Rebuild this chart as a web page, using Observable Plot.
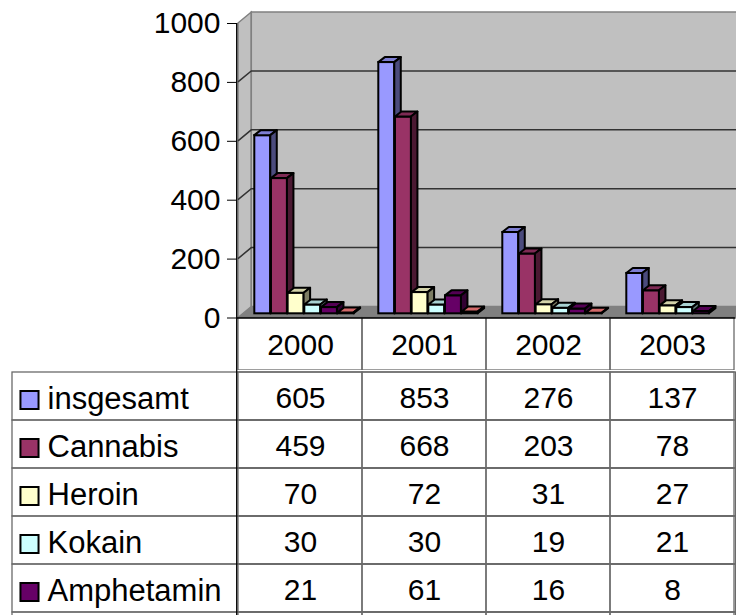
<!DOCTYPE html>
<html>
<head>
<meta charset="utf-8">
<script src="https://cdn.jsdelivr.net/npm/d3@7"></script>
<script src="https://cdn.jsdelivr.net/npm/@observablehq/plot@0.6"></script>
<style>
  html, body { margin: 0; padding: 0; background: white; overflow: hidden; }
  #chart svg { display: block; }
</style>
</head>
<body>
<div id="chart"></div>
<script>
// ---- data ----
const years = ["2000", "2001", "2002", "2003"];
const seriesNames = ["insgesamt", "Cannabis", "Heroin", "Kokain", "Amphetamin"];
const insgesamt  = [605, 853, 276, 137];
const cannabis   = [459, 668, 203, 78];
const heroin     = [70, 72, 31, 27];
const kokain     = [30, 30, 19, 21];
const amphetamin = [21, 61, 16, 8];
// sixth series: its table row is cut off at the bottom of the picture (name not visible)
const series6Name = "(6)";
const series6 = [3, 6, 2, null];
const yTicks = [0, 200, 400, 600, 800, 1000];

const allNames = [...seriesNames, series6Name];
const allValues = [insgesamt, cannabis, heroin, kokain, amphetamin, series6];
const colors = ["#9999FF", "#993366", "#FFFFCC", "#CCFFFF", "#660066", "#FF8080"];

const rows = [];
allNames.forEach((s, i) => years.forEach((y, j) => rows.push({series: s, idx: i, year: y, value: allValues[i][j]})));

// ---- styles ----
const FONT = "'Liberation Sans', Arial, sans-serif";
const FS = 30;
const W = 736;
const ML = 236.7, MR = 0.5, MT = 23, PLOT_BOTTOM = 317.5, HEADER_H = 52.5;
const H1 = PLOT_BOTTOM + HEADER_H;
const ROW_H = 48.5;
const BW = (W - MR - ML) / years.length;
const BAR_OFF = 16.3, BAR_W = 16.67, BAR_DY = -4.2, DEP_X = 6.5, DEP_Y = -5;
const WALL_DX = 13.3, WALL_DY = -11;
const GRID = "#333", TABLE = "#6a6a6a";

const NS = "http://www.w3.org/2000/svg";
function el(tag, attrs) {
  const e = document.createElementNS(NS, tag);
  for (const k in attrs) e.setAttribute(k, attrs[k]);
  return e;
}
const pts = a => a.map(p => p.join(",")).join(" ");
const bwOf = s => typeof s.bandwidth === "function" ? s.bandwidth() : s.bandwidth;

// walls, floor and gridlines (from the x and y scales)
function walls(index, scales) {
  const g = el("g", {});
  const x0 = scales.x(years[0]);
  const x1 = scales.x(years[years.length - 1]) + bwOf(scales.x);
  const y0 = scales.y(0), yT = scales.y(yTicks[yTicks.length - 1]);
  g.appendChild(el("polygon", {points: pts([[x0, yT], [x0 + WALL_DX, yT + WALL_DY], [x0 + WALL_DX, y0 + WALL_DY], [x0, y0]]), fill: "#c0c0c0", stroke: "#808080", "stroke-width": 1.5}));
  g.appendChild(el("rect", {x: x0 + WALL_DX, y: yT + WALL_DY, width: x1 - x0 + 20, height: y0 - yT, fill: "#c0c0c0", stroke: "#808080", "stroke-width": 1.5}));
  g.appendChild(el("polygon", {points: pts([[x0, y0], [x0 + WALL_DX, y0 + WALL_DY], [x1 + WALL_DX + 20, y0 + WALL_DY], [x1 + 20, y0]]), fill: "#808080"}));
  for (const t of yTicks.slice(1, -1)) {
    const y = scales.y(t);
    g.appendChild(el("polyline", {points: pts([[x0, y], [x0 + WALL_DX, y + WALL_DY], [x1 + WALL_DX + 20, y + WALL_DY]]), fill: "none", stroke: GRID, "stroke-width": 1.5}));
  }
  return g;
}

function insetL(i) { return BAR_OFF + i * BAR_W; }
function insetR(i) { return BW - insetL(i) - BAR_W; }

// top and side faces of the 3D bars of series i
function faces(i) {
  return (index, scales) => {
    const g = el("g", {});
    const c = d3.color(colors[i]);
    const top = c.darker(0.55).formatHex(), side = c.darker(2).formatHex();
    const bw = bwOf(scales.x);
    for (const d of rows.filter(r => r.idx === i && r.value != null)) {
      const x = scales.x(d.year) + insetL(i);
      const w = bw - insetL(i) - insetR(i);
      const yt = scales.y(d.value) + BAR_DY, yb = scales.y(0) + BAR_DY;
      g.appendChild(el("polygon", {points: pts([[x, yt], [x + DEP_X, yt + DEP_Y], [x + w + DEP_X, yt + DEP_Y], [x + w, yt]]), fill: top, stroke: "black", "stroke-width": 2, "stroke-linejoin": "round"}));
      g.appendChild(el("polygon", {points: pts([[x + w, yt], [x + w + DEP_X, yt + DEP_Y], [x + w + DEP_X, yb + DEP_Y], [x + w, yb]]), fill: side, stroke: "black", "stroke-width": 2, "stroke-linejoin": "round"}));
    }
    return g;
  };
}

function axisLine(index, scales, values, dims) {
  return el("line", {x1: dims.marginLeft, x2: dims.marginLeft, y1: scales.y ? scales.y(yTicks[yTicks.length - 1]) : 0, y2: dims.height, stroke: "black", "stroke-width": 1.3});
}
function axisLine2(index, scales, values, dims) {
  return el("line", {x1: dims.marginLeft, x2: dims.marginLeft, y1: 0, y2: dims.height, stroke: "black", "stroke-width": 1.3});
}

const barMarks = [];
allNames.forEach((s, i) => {
  barMarks.push(Plot.barY(rows.filter(r => r.idx === i && r.value != null), {
    x: "year", y: "value", fill: colors[i], stroke: "black", strokeWidth: 2,
    insetLeft: insetL(i), insetRight: insetR(i), dy: BAR_DY
  }));
  barMarks.push(faces(i));
});

const chart1 = Plot.plot({
  width: W, height: H1,
  marginLeft: ML, marginRight: MR, marginTop: MT, marginBottom: HEADER_H,
  style: {fontFamily: FONT, background: "white", overflow: "hidden"},
  x: {domain: years, padding: 0, axis: null},
  y: {domain: [0, 1000], axis: null},
  marks: [
    walls,
    Plot.cell(years, {x: d => d, fill: "none", stroke: TABLE, strokeWidth: 1.3, insetTop: PLOT_BOTTOM - MT, insetBottom: -HEADER_H}),
    Plot.text(years, {x: d => d, text: d => d, frameAnchor: "bottom", lineAnchor: "middle", dy: 27.5, fontSize: FS, fill: "black"}),
    ...barMarks,
    Plot.ruleY([0], {stroke: "black", strokeWidth: 1.3}),
    axisLine,
    Plot.axisY(yTicks, {anchor: "left", tickSize: 9.7, tickPadding: 7, tickFormat: d => String(d), label: null, fontSize: FS, fill: "black", stroke: "black"})
  ]
});

const tableRows = rows.filter(r => r.idx < seriesNames.length);
const chart2 = Plot.plot({
  width: W, height: 615 - H1,
  marginLeft: ML, marginRight: MR, marginTop: 0, marginBottom: 0,
  style: {fontFamily: FONT, background: "white", overflow: "hidden"},
  x: {domain: years, padding: 0, axis: null},
  y: {domain: allNames, range: [0, ROW_H * allNames.length], padding: 0, axis: null},
  color: {type: "identity"},
  marks: [
    Plot.cell(allNames, {y: d => d, fill: "none", stroke: TABLE, strokeWidth: 1.3, insetLeft: -(ML - 12)}),
    Plot.cell(rows, {x: "year", y: "series", fill: "none", stroke: TABLE, strokeWidth: 1.3}),
    Plot.dot(seriesNames, {y: d => d, frameAnchor: "left", dx: 29 - ML, dy: 3.5, symbol: "square", r: 10.2, fill: (d, i) => colors[i], stroke: "black", strokeWidth: 2}),
    Plot.text(seriesNames, {y: d => d, text: d => d, frameAnchor: "left", textAnchor: "start", dx: 47 - ML, dy: 2.5, fontSize: 31, fill: "black"}),
    Plot.text(tableRows, {x: "year", y: "series", text: d => String(d.value), dy: 2, fontSize: FS, fill: "black"}),
    axisLine2
  ]
});

document.getElementById("chart").append(chart1, chart2);
</script>
</body>
</html>
